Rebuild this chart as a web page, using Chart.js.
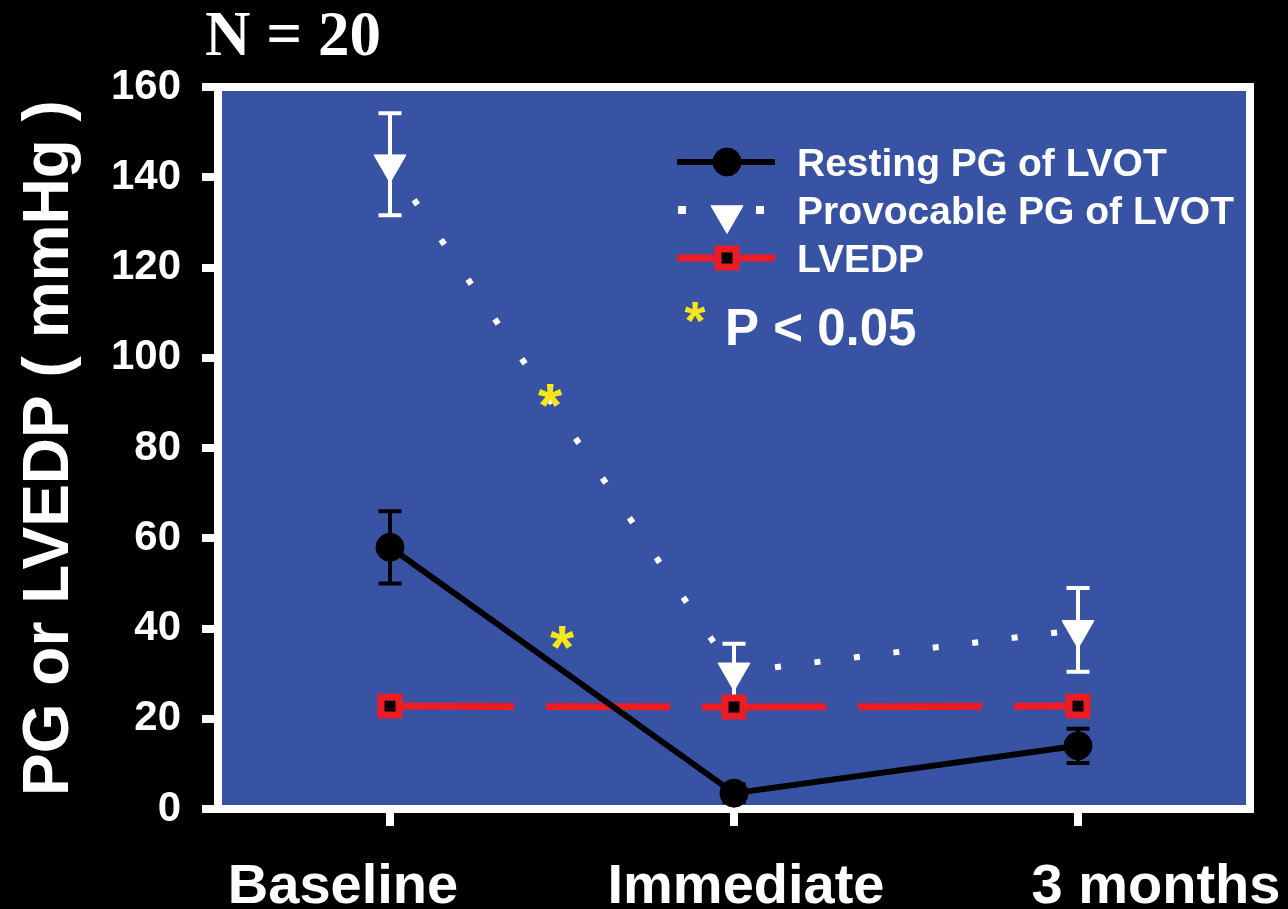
<!DOCTYPE html>
<html>
<head>
<meta charset="utf-8">
<script src="https://cdn.jsdelivr.net/npm/chart.js@4/dist/chart.umd.min.js"></script>
<style>
  html, body { margin: 0; padding: 0; background: #000; }
  #wrap { width: 1288px; height: 909px; }
</style>
</head>
<body>
<div id="wrap"><canvas id="c" width="1288" height="909"></canvas></div>
<script>
// ---------- data ----------
const categories = ['Baseline', 'Immediate', '3 months'];
const restingPG = [58, 3.5, 14];
const restingErr = [8, 2, 3.8];
const provocablePG = [142.9, 30.3, 39.7];
const provocableErr = [11.3, 6.3, 9.3];
const lvedp = [22.8, 22.6, 22.8];
const yMin = 0, yMax = 160, yStep = 20;
const seriesLabels = ['Resting PG of LVOT', 'Provocable PG of LVOT', 'LVEDP'];
const titleText = 'N = 20';
const yTitle = 'PG or LVEDP ( mmHg )';
const sigText = 'P < 0.05';
// significance asterisks: position between categories (fraction) and value
const sigPos = [0.465, 0.5];
const sigVal = [91.7, 37.9];

// ---------- styles ----------
const BLUE = '#3953a4';
const RED = '#ed1c24';
const YELLOW = '#f7e718';
const SANS = '"Liberation Sans", Arial, sans-serif';
const SERIF = '"Liberation Serif", "Times New Roman", serif';
const xLabelShift = [-47, 12, 78];

function drawAsterisk(ctx, cx, cy, size) {
  ctx.save();
  ctx.font = 'bold ' + size + 'px ' + SANS;
  const m = ctx.measureText('*');
  ctx.textAlign = 'center';
  ctx.textBaseline = 'alphabetic';
  const gy = cy + (m.actualBoundingBoxAscent - m.actualBoundingBoxDescent) / 2;
  ctx.fillStyle = YELLOW;
  ctx.fillText('*', cx, gy);
  ctx.restore();
}

const decor = {
  id: 'decor',
  beforeDraw(chart) {
    const {ctx, chartArea: a} = chart;
    ctx.save();
    ctx.fillStyle = '#000';
    ctx.fillRect(0, 0, chart.width, chart.height);
    ctx.fillStyle = BLUE;
    ctx.fillRect(a.left, a.top, a.right - a.left, a.bottom - a.top);
    ctx.restore();
  },
  beforeDatasetsDraw(chart) {
    const {ctx, chartArea: a, scales: {x, y}} = chart;
    ctx.save();
    ctx.strokeStyle = '#fff';
    ctx.lineWidth = 8;
    ctx.strokeRect(a.left, a.top, a.right - a.left, a.bottom - a.top);
    // error bars
    chart.data.datasets.forEach(ds => {
      if (!ds.errors) return;
      ctx.strokeStyle = ds.errorColor;
      ctx.lineWidth = 4;
      ds.data.forEach((v, i) => {
        const e = ds.errors[i];
        const px = x.getPixelForValue(i);
        const yt = y.getPixelForValue(v + e);
        const yb = y.getPixelForValue(v - e);
        ctx.beginPath();
        ctx.moveTo(px, yt); ctx.lineTo(px, yb);
        ctx.moveTo(px - 11.5, yt); ctx.lineTo(px + 11.5, yt);
        ctx.moveTo(px - 11.5, yb); ctx.lineTo(px + 11.5, yb);
        ctx.stroke();
      });
    });
    ctx.restore();
  },
  afterDraw(chart) {
    const {ctx, scales: {x, y}} = chart;
    const H = Chart.helpers;
    ctx.save();
    // title
    ctx.fillStyle = '#fff';
    ctx.font = 'bold 63px ' + SERIF;
    ctx.textAlign = 'left';
    ctx.textBaseline = 'alphabetic';
    ctx.fillText(titleText, 205, 55);
    // x labels
    ctx.font = 'bold 56px ' + SANS;
    ctx.textAlign = 'center';
    categories.forEach((c, i) => {
      ctx.fillText(c, x.getPixelForValue(i) + xLabelShift[i], 903);
    });
    // significance asterisks
    sigPos.forEach((p, i) => {
      const px = x.getPixelForValue(0) + p * (x.getPixelForValue(1) - x.getPixelForValue(0));
      drawAsterisk(ctx, px, y.getPixelForValue(sigVal[i]), 62);
    });
    // legend
    const ds = chart.data.datasets;
    const lx0 = 677, lx1 = 775, lxc = 727, tx = 797;
    const rows = [162, 210, 258];
    const fs = 39;
    ds.forEach((d, i) => {
      const ry = rows[i];
      ctx.save();
      if (i === 1) {
        ctx.fillStyle = d.borderColor;
        ctx.fillRect(lx0 + 1, ry - 4, 8, 8);
        ctx.fillRect(lx1 - 19, ry - 4, 8, 8);
      } else {
        ctx.strokeStyle = d.borderColor;
        ctx.lineWidth = d.borderWidth;
        ctx.beginPath(); ctx.moveTo(lx0, ry); ctx.lineTo(lx1, ry); ctx.stroke();
      }
      ctx.fillStyle = d.pointBackgroundColor;
      ctx.strokeStyle = d.pointBorderColor;
      ctx.lineWidth = d.pointBorderWidth;
      H.drawPoint(ctx, {pointStyle: d.pointStyle, rotation: d.pointRotation || 0,
        radius: d.pointRadius, borderWidth: d.pointBorderWidth}, lxc, i === 1 ? ry + 5 : ry);
      ctx.restore();
      ctx.fillStyle = '#fff';
      ctx.font = 'bold ' + fs + 'px ' + SANS;
      ctx.textAlign = 'left';
      ctx.textBaseline = 'alphabetic';
      ctx.fillText(d.label, tx, ry + 0.358 * fs);
    });
    drawAsterisk(ctx, 695, 312, 54);
    ctx.fillStyle = '#fff';
    ctx.font = 'bold 51px ' + SANS;
    ctx.textAlign = 'left';
    ctx.fillText(sigText, 725, 345);
    ctx.restore();
  }
};

new Chart(document.getElementById('c'), {
  type: 'line',
  data: {
    labels: categories,
    datasets: [
      {
        label: seriesLabels[0], data: restingPG, errors: restingErr, errorColor: '#000',
        borderColor: '#000', borderWidth: 6, tension: 0,
        pointStyle: 'circle', pointRadius: 14, pointBackgroundColor: '#000',
        pointBorderColor: '#000', pointBorderWidth: 1
      },
      {
        label: seriesLabels[1], data: provocablePG, errors: provocableErr, errorColor: '#fff',
        borderColor: '#fff', borderWidth: 6, borderCapStyle: 'butt', tension: 0,
        segment: {
          borderDash: c => c.p0DataIndex === 0 ? [6, 42] : [6, 33.74],
          borderDashOffset: c => c.p0DataIndex === 0 ? 5 : 38.18
        },
        pointStyle: 'triangle', pointRotation: 180, pointRadius: 18.5,
        pointBackgroundColor: '#fff', pointBorderColor: '#fff', pointBorderWidth: 1
      },
      {
        label: seriesLabels[2], data: lvedp,
        borderColor: RED, borderWidth: 7, borderDash: [124, 32], borderCapStyle: 'butt', tension: 0,
        pointStyle: 'rect', pointRadius: 12.7, pointBackgroundColor: '#000',
        pointBorderColor: RED, pointBorderWidth: 7
      }
    ]
  },
  options: {
    responsive: false,
    animation: false,
    events: [],
    layout: { padding: { left: 0, right: 38, top: 87, bottom: 0 } },
    plugins: { legend: { display: false }, tooltip: { enabled: false }, title: { display: false } },
    scales: {
      x: {
        type: 'category', offset: true,
        grid: { display: true, drawOnChartArea: false, drawTicks: true, tickLength: 17,
                tickWidth: 8, tickColor: '#fff', color: '#fff', lineWidth: 8, offset: false },
        border: { display: true, color: '#fff', width: 8 },
        ticks: { display: false },
        afterFit: s => { s.height = 100; }
      },
      y: {
        min: yMin, max: yMax,
        ticks: { stepSize: yStep, color: '#fff', padding: 21,
                 font: { family: SANS, weight: 'bold', size: 42 } },
        grid: { drawOnChartArea: false, tickLength: 16, tickWidth: 8, tickColor: '#fff', color: '#fff', lineWidth: 8 },
        border: { display: true, color: '#fff', width: 8 },
        title: { display: true, text: yTitle, color: '#fff',
                 font: { family: SANS, weight: 'bold', size: 64 }, padding: { top: 12, bottom: 0 } },
        afterFit: s => { s.width = 218; }
      }
    }
  },
  plugins: [decor]
});
</script>
</body>
</html>
